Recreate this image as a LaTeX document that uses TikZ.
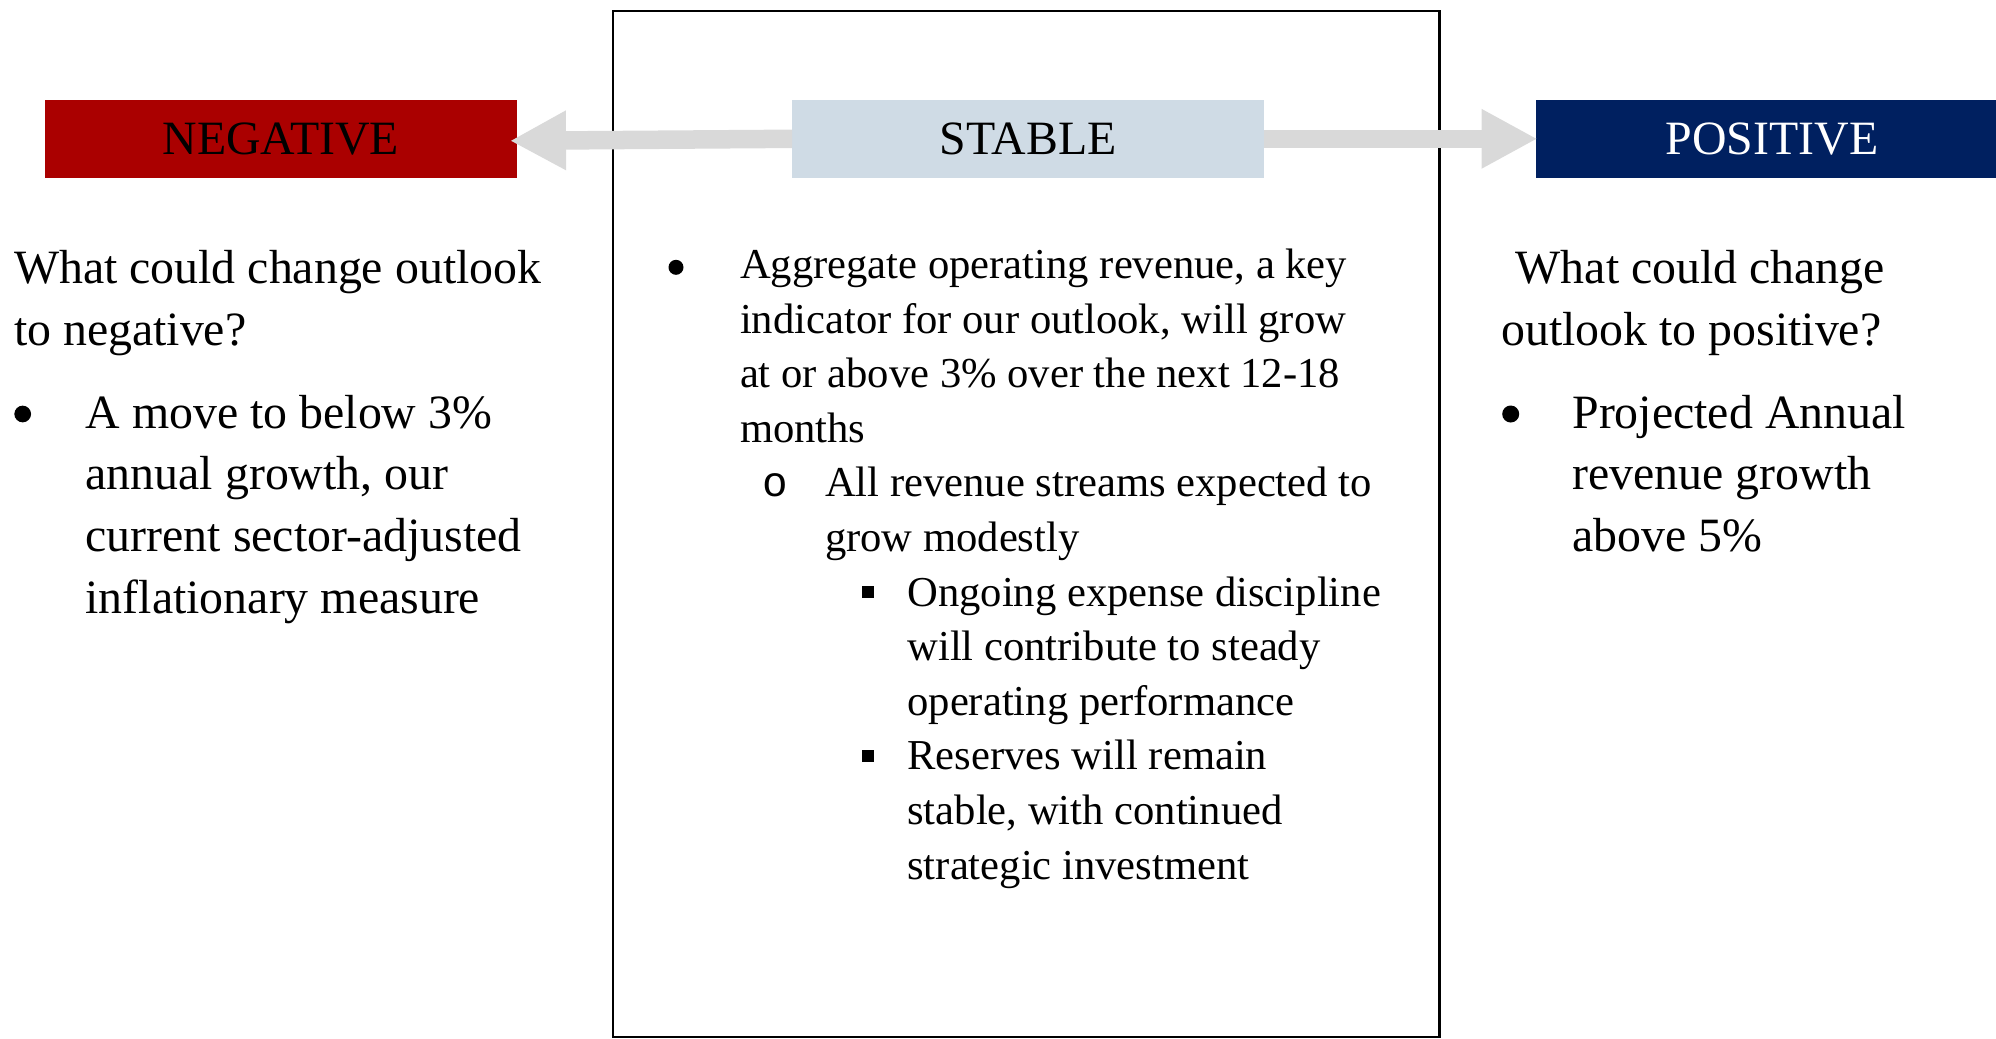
\documentclass[tikz,border=0pt]{standalone}
\usepackage{fontspec}
\setmainfont{Liberation Serif}
\newfontfamily\ringfont{Liberation Mono}
\usetikzlibrary{arrows.meta, positioning}

\definecolor{negred}{HTML}{AA0000}
\definecolor{stablegray}{HTML}{CFDBE5}
\definecolor{posblue}{HTML}{002060}
\definecolor{arrowgray}{HTML}{D9D9D9}

\newcommand{\sidefont}{\fontsize{13.6pt}{17.53pt}\selectfont}
\newcommand{\midfont}{\fontsize{12.12pt}{15.54pt}\selectfont}

% text blocks are placed by the baseline of their last line
\tikzset{
  headbox/.style={rectangle, inner sep=0pt, outer sep=0pt, minimum width=4.72cm, minimum height=0.777cm, font=\sidefont},
  sidetext/.style={anchor=base west, inner sep=0pt, align=left, font=\sidefont},
  midtext/.style={anchor=base west, inner sep=0pt, align=left, font=\midfont},
  dotbullet/.style={circle, fill=black, inner sep=0pt, minimum size=#1},
  dotbullet/.default=0.17cm,
  sqbullet/.style={rectangle, fill=black, inner sep=0pt, minimum size=0.117cm},
  flowarrow/.style={draw=arrowgray, line width=0.185cm, -{Triangle[length=5.6mm, width=5.55mm]}},
}

\begin{document}
\begin{tikzpicture}[x=0.01cm, y=-0.01cm]
  \useasboundingbox (0,0) rectangle (1996,1039);

  % frame round the stable column
  \node[draw, line width=0.6pt, outer sep=0pt, inner sep=0pt, anchor=north west,
        minimum width=8.263cm, minimum height=10.25cm] (frame) at (612.7,11) {};

  % outlook headers
  \node[headbox, fill=negred] (neg) at (280.8,138.8) {NEGATIVE};
  \node[headbox, fill=stablegray, right=2.75cm of neg] (stab) {STABLE};
  \node[headbox, fill=posblue, text=white, right=2.713cm of stab] (pos) {POSITIVE};

  % arrows out of the stable box
  \draw[flowarrow] (stab.west) -- ([xshift=-0.07cm, yshift=-0.02cm]neg.east);
  \draw[flowarrow] (stab.east) -- ([xshift=0.017cm]pos.west);

  % negative column
  \node[sidetext] (negq) at (13.3,345) {What could change outlook\\to negative?};
  \node[dotbullet=0.167cm] (negdot) at (22.7,414) {};
  \node[sidetext] (negpt) at (85,613.1) {A move to below 3\%\\annual growth, our\\current sector-adjusted\\inflationary measure};

  % stable column
  \node[dotbullet=0.15cm] (stabdot) at (676,267.3) {};
  \node[midtext] (stabpt) at (739.3,442.3) {Aggregate operating revenue, a key\\indicator for our outlook, will grow\\at or above 3\% over the next 12-18\\months};
  \node[midtext, font=\midfont\ringfont] (stabring) at (762,496.4) {o};
  \node[midtext] (stabsub) at (824.3,551) {All revenue streams expected to\\grow modestly};
  \node[sqbullet] (expsq) at (868.3,592.3) {};
  \node[midtext] (stabexp) at (906.7,715.3) {Ongoing expense discipline\\will contribute to steady\\operating performance};
  \node[sqbullet] (ressq) at (868.3,755.9) {};
  \node[midtext] (stabres) at (906.7,879.1) {Reserves will remain\\stable, with continued\\strategic investment};

  % positive column
  \node[sidetext] (posq) at (1500.7,345) {\hspace*{0.143cm}What could change\\outlook to positive?};
  \node[dotbullet] (posdot) at (1510.7,414) {};
  \node[sidetext] (pospt) at (1571.7,551.5) {Projected Annual\\revenue growth\\above 5\%};
\end{tikzpicture}
\end{document}
